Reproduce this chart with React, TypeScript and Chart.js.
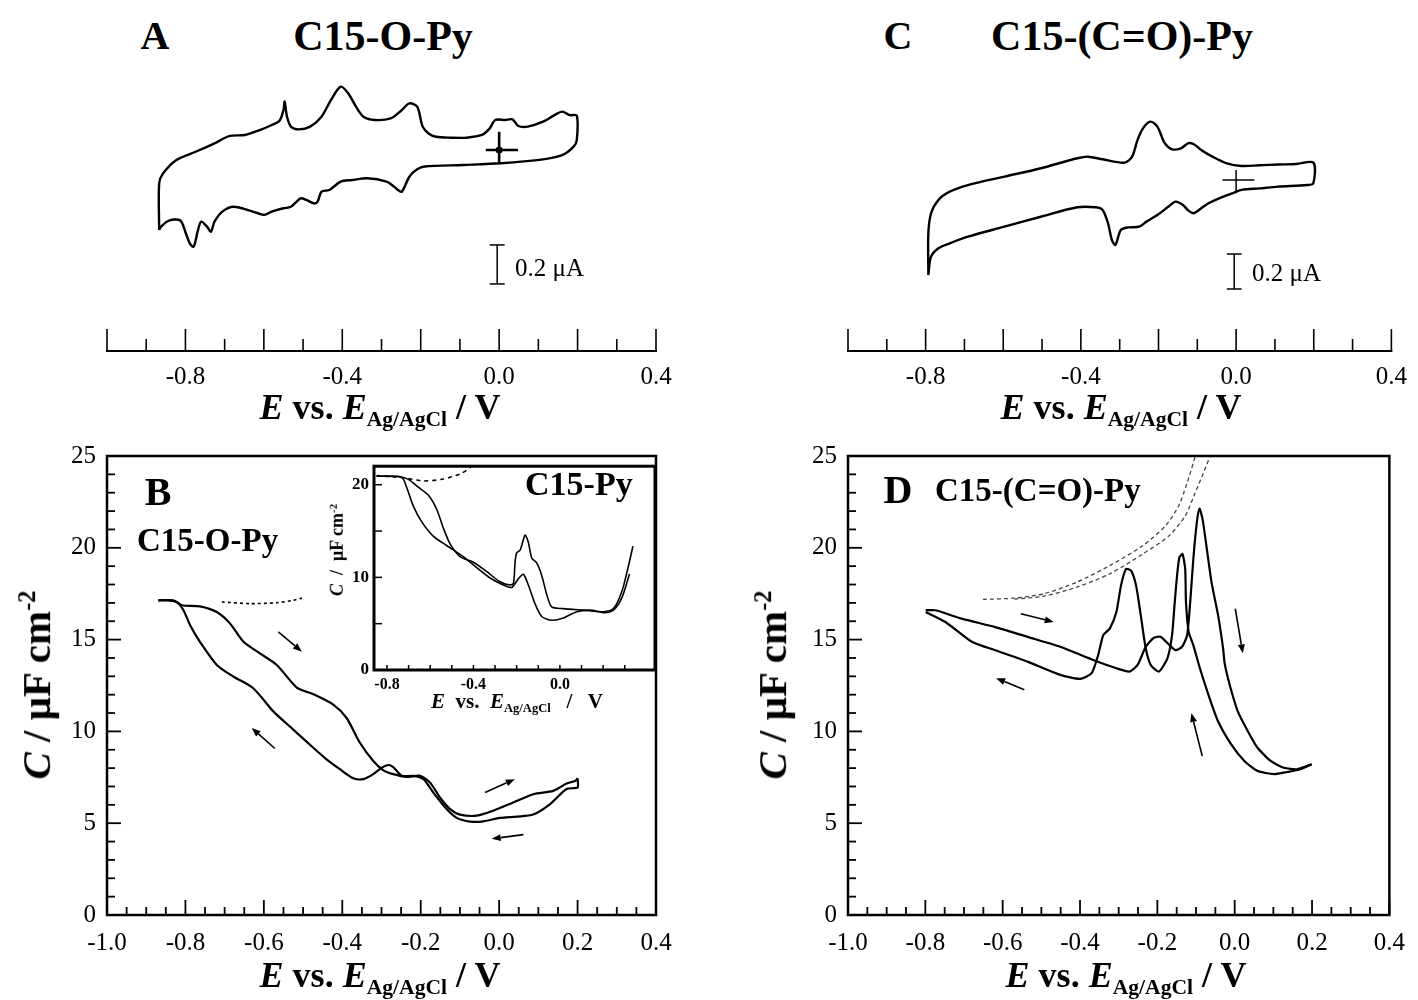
import React, { useEffect, useRef } from "react";
import { Chart, registerables } from "chart.js";
Chart.register(...registerables);

const SERIF = "'Liberation Serif', 'Times New Roman', serif";
Chart.defaults.font.family = SERIF;

// ---------------- Panel A : CV of C15-O-Py (E / V, I / uA) ----------------
const cvA_E = [-0.867,-0.867,-0.857,-0.823,-0.774,-0.726,-0.687,-0.648,-0.609,-0.580,-0.560,-0.550,-0.547,-0.541,-0.531,-0.511,-0.482,-0.453,-0.429,-0.404,-0.385,-0.365,-0.346,-0.317,-0.277,-0.248,-0.229,-0.209,-0.195,-0.180,-0.161,-0.122,-0.083,-0.044,-0.024,-0.010,0.015,0.034,0.049,0.073,0.112,0.141,0.161,0.180,0.198,
  0.198,0.190,0.161,0.102,0.005,-0.092,-0.190,-0.209,-0.229,-0.248,-0.258,-0.268,-0.287,-0.336,-0.375,-0.404,-0.433,-0.453,-0.463,-0.472,-0.492,-0.506,-0.531,-0.550,-0.580,-0.599,-0.628,-0.677,-0.706,-0.726,-0.735,-0.745,-0.760,-0.769,-0.779,-0.789,-0.799,-0.813,-0.842,-0.862,-0.867];
const cvA_I = [-0.410,-0.171,-0.120,-0.051,-0.009,0.034,0.072,0.077,0.103,0.128,0.150,0.205,0.248,0.171,0.120,0.106,0.120,0.171,0.256,0.325,0.291,0.222,0.171,0.154,0.162,0.205,0.239,0.222,0.120,0.085,0.068,0.063,0.063,0.077,0.111,0.154,0.154,0.157,0.123,0.120,0.145,0.179,0.197,0.179,0.176,
  0.051,0.017,-0.026,-0.051,-0.068,-0.077,-0.085,-0.099,-0.137,-0.214,-0.205,-0.188,-0.162,-0.145,-0.154,-0.162,-0.205,-0.214,-0.265,-0.274,-0.256,-0.248,-0.291,-0.299,-0.316,-0.333,-0.316,-0.291,-0.316,-0.368,-0.419,-0.393,-0.368,-0.419,-0.496,-0.479,-0.427,-0.362,-0.362,-0.393,-0.410];
const crossA_E = [-0.034, 0.048];
const crossA_I = [0.094, -0.068];
const scaleBarA = [-0.005, -0.487, -0.687]; // E, I top, I bottom

// ---------------- Panel C : CV of C15-(C=O)-Py ----------------
const cvC_E = [-0.793,-0.793,-0.786,-0.767,-0.738,-0.691,-0.597,-0.503,-0.409,-0.381,-0.344,-0.287,-0.268,-0.254,-0.240,-0.221,-0.203,-0.184,-0.165,-0.142,-0.123,-0.109,-0.090,-0.061,-0.024,0.014,0.061,0.108,0.155,0.199,
  0.199,0.183,0.108,0.061,0.014,-0.005,-0.033,-0.071,-0.090,-0.109,-0.123,-0.137,-0.156,-0.174,-0.203,-0.231,-0.250,-0.278,-0.297,-0.311,-0.320,-0.330,-0.344,-0.362,-0.409,-0.503,-0.597,-0.691,-0.738,-0.767,-0.786,-0.793];
const cvC_I = [-0.543,-0.305,-0.190,-0.114,-0.067,-0.029,0.019,0.067,0.124,0.133,0.118,0.099,0.133,0.229,0.295,0.333,0.305,0.210,0.175,0.181,0.210,0.204,0.171,0.133,0.095,0.080,0.084,0.088,0.091,0.099,
  -0.019,-0.029,-0.038,-0.048,-0.057,-0.072,-0.095,-0.133,-0.162,-0.190,-0.175,-0.143,-0.124,-0.152,-0.200,-0.238,-0.267,-0.271,-0.286,-0.371,-0.343,-0.248,-0.171,-0.156,-0.156,-0.210,-0.267,-0.324,-0.362,-0.390,-0.438,-0.543];
const crossC_E = [-0.035, 0.047];
const crossC_I = [0.057, -0.076];
const scaleBarC = [-0.005, -0.423, -0.623];

// ---------------- Panel B : C vs E, C15-O-Py ----------------
const bFwdE = [-0.869,-0.831,-0.809,-0.763,-0.720,-0.686,-0.652,-0.610,-0.567,-0.516,-0.474,-0.423,-0.389,-0.355,-0.321,-0.295,-0.270,-0.236,-0.202,-0.176,-0.151,-0.125,-0.100,-0.057,-0.015,0.036,0.087,0.138,0.172,0.194,0.200];
const bFwdC = [17.14,17.14,16.87,16.81,16.50,15.87,14.88,14.25,13.62,12.39,12.03,11.46,10.73,9.38,8.39,7.88,7.67,7.52,7.58,7.21,6.40,5.77,5.47,5.41,5.68,6.13,6.58,6.76,7.16,7.30,7.45];
const bRevE = [0.200,0.200,0.172,0.130,0.087,0.045,0.002,-0.040,-0.074,-0.108,-0.134,-0.168,-0.193,-0.219,-0.248,-0.270,-0.283,-0.299,-0.321,-0.346,-0.372,-0.406,-0.440,-0.474,-0.525,-0.576,-0.627,-0.678,-0.720,-0.763,-0.788,-0.805,-0.822,-0.856,-0.869];
const bRevC = [7.45,6.95,6.86,6.04,5.47,5.36,5.29,5.10,5.09,5.29,5.77,6.67,7.40,7.58,7.58,8.06,8.17,8.03,7.67,7.40,7.45,7.94,8.48,9.11,10.10,11.09,12.35,12.99,13.62,14.88,15.78,16.60,17.05,17.14,17.14];
const bDashE = [-0.707,-0.635,-0.567,-0.525,-0.503];
const bDashC = [17.05,16.96,17.01,17.14,17.26];
const arrowsB = [[-0.563,15.42,-0.503,14.34],[-0.572,9.07,-0.631,10.19],[-0.036,6.67,0.040,7.40],[0.062,4.38,-0.019,4.15]];

// ---------------- Inset : C15-Py ----------------
const insAE = [-0.848,-0.755,-0.701,-0.655,-0.609,-0.570,-0.539,-0.508,-0.462,-0.400,-0.338,-0.277,-0.231,-0.215,-0.207,-0.200,-0.184,-0.161,-0.146,-0.130,-0.107,-0.084,-0.061,-0.038,0.016,0.109,0.201,0.248,0.287,0.317,0.338];
const insAC = [20.92,20.88,20.58,19.73,18.88,17.35,15.31,13.61,12.24,11.63,10.61,9.52,9.18,9.35,11.73,12.65,12.93,14.56,13.78,12.07,11.56,10.20,8.16,6.81,6.63,6.46,6.29,6.63,8.50,11.22,13.37];
const insBE = [-0.848,-0.732,-0.709,-0.678,-0.639,-0.586,-0.524,-0.447,-0.385,-0.323,-0.262,-0.223,-0.192,-0.169,-0.146,-0.115,-0.084,-0.038,0.016,0.078,0.140,0.209,0.248,0.287,0.322];
const insBC = [20.92,20.82,19.73,17.69,15.99,14.46,13.44,12.24,11.05,9.93,9.18,8.91,9.86,10.34,9.18,7.14,5.78,5.37,5.61,6.29,6.46,6.19,6.46,7.82,10.37];
const insDashE = [-0.848,-0.725,-0.632,-0.539,-0.462,-0.416,-0.400];
const insDashC = [21.0,20.75,20.41,20.61,21.16,21.84,22.4];
const insXTickLabels = [-0.8, -0.4, 0.0];
const insYTickLabels = [0, 10, 20];

// ---------------- Panel D : C vs E, C15-(C=O)-Py ----------------
const dFwdE = [-0.799,-0.774,-0.706,-0.621,-0.536,-0.451,-0.366,-0.306,-0.272,-0.251,-0.230,-0.209,-0.192,-0.170,-0.153,-0.136,-0.123,-0.115,-0.107,-0.098,-0.091,-0.083,-0.072,-0.060,-0.043,-0.030,-0.026,-0.013,0.008,0.034,0.059,0.093,0.127,0.161,0.199];
const dFwdC = [16.60,16.60,16.14,15.69,15.15,14.61,13.89,13.44,13.26,13.62,14.61,15.10,15.15,14.73,14.43,14.61,15.24,17.05,19.39,21.37,22.13,21.55,19.93,18.13,16.33,14.52,13.71,12.54,11.09,10.01,9.11,8.39,8.02,7.94,8.21];
const dRevE = [0.199,0.170,0.136,0.102,0.059,0.025,-0.009,-0.043,-0.068,-0.090,-0.107,-0.119,-0.126,-0.128,-0.135,-0.143,-0.149,-0.155,-0.162,-0.174,-0.196,-0.217,-0.230,-0.243,-0.255,-0.268,-0.281,-0.294,-0.306,-0.323,-0.340,-0.353,-0.370,-0.400,-0.451,-0.536,-0.621,-0.680,-0.748,-0.799];
const dRevC = [8.21,7.94,7.79,7.67,7.85,8.39,9.29,10.55,12.00,13.44,14.70,15.42,17.05,18.85,19.66,19.48,18.49,17.05,15.24,13.98,13.26,13.62,14.52,16.33,17.95,18.76,18.85,17.95,16.50,15.60,15.24,14.16,13.17,12.86,13.08,13.80,14.43,14.88,15.96,16.50];
const dDash1E = [-0.651,-0.570,-0.493,-0.408,-0.323,-0.238,-0.179,-0.145,-0.123,-0.102,-0.095];
const dDash1C = [17.19,17.26,17.50,18.13,19.03,20.11,21.20,22.28,23.54,24.98,25.5];
const dDash2E = [-0.570,-0.493,-0.408,-0.323,-0.238,-0.170,-0.128,-0.102,-0.081,-0.064,-0.058];
const dDash2C = [17.20,17.37,17.86,18.58,19.66,20.65,21.74,23.00,24.08,24.98,25.5];
const arrowsD = [[-0.553,16.41,-0.468,15.96],[-0.544,12.27,-0.617,12.90],[0.0015,16.68,0.021,14.25],[-0.084,8.66,-0.112,11.0]];

// ---------------- helpers ----------------
type Pt = { x: number; y: number };
const pts = (xs: number[], ys: number[]): Pt[] => xs.map((x, i) => ({ x, y: ys[i] }));
const fmt = (v: number) => (Math.abs(v) < 1e-9 ? "0.0" : v.toFixed(1));

interface TickCfg { from: number; to: number; minor: number; major: number; minorLen: number; majorLen: number; }
interface DecorCfg { frame: "box" | "bottom"; frameWidth: number; tickWidth: number; x?: TickCfg; y?: TickCfg; arrows?: number[][]; }

function makeDecor(cfg: DecorCfg) {
  return {
    id: "decor",
    afterDatasetsDraw(chart: any) {
      const { ctx, chartArea: a } = chart;
      const xs = chart.scales.x, ys = chart.scales.y;
      ctx.save();
      ctx.strokeStyle = "#000";
      ctx.fillStyle = "#000";
      const each = (t: TickCfg, scale: any, fn: (p: number, len: number) => void) => {
        const n = Math.round((t.to - t.from) / t.minor);
        for (let k = 0; k <= n; k++) {
          const v = t.from + k * t.minor;
          const r = v / t.major;
          const isMajor = Math.abs(r - Math.round(r)) < 1e-6;
          fn(scale.getPixelForValue(v), isMajor ? t.majorLen : t.minorLen);
        }
      };
      ctx.lineWidth = cfg.tickWidth;
      if (cfg.x) each(cfg.x, xs, (p, len) => { ctx.beginPath(); ctx.moveTo(p, a.bottom); ctx.lineTo(p, a.bottom - len); ctx.stroke(); });
      if (cfg.y) each(cfg.y, ys, (p, len) => { ctx.beginPath(); ctx.moveTo(a.left, p); ctx.lineTo(a.left + len, p); ctx.stroke(); });
      ctx.lineWidth = cfg.frameWidth;
      if (cfg.frame === "box") {
        ctx.strokeRect(a.left, a.top, a.right - a.left, a.bottom - a.top);
      } else {
        ctx.beginPath();
        ctx.moveTo(a.left - 1, a.bottom);
        ctx.lineTo(a.right + 1, a.bottom);
        ctx.stroke();
      }
      if (cfg.arrows) {
        ctx.lineWidth = 1.6;
        for (const [x1, y1, x2, y2] of cfg.arrows) {
          const X1 = xs.getPixelForValue(x1), Y1 = ys.getPixelForValue(y1);
          const X2 = xs.getPixelForValue(x2), Y2 = ys.getPixelForValue(y2);
          const ang = Math.atan2(Y2 - Y1, X2 - X1);
          const hl = 9, hw = 3.5;
          const bx = X2 - hl * Math.cos(ang), by = Y2 - hl * Math.sin(ang);
          ctx.beginPath(); ctx.moveTo(X1, Y1); ctx.lineTo(bx, by); ctx.stroke();
          ctx.beginPath();
          ctx.moveTo(X2, Y2);
          ctx.lineTo(bx + hw * Math.sin(ang), by - hw * Math.cos(ang));
          ctx.lineTo(bx - hw * Math.sin(ang), by + hw * Math.cos(ang));
          ctx.closePath(); ctx.fill();
        }
      }
      ctx.restore();
    },
  };
}

const line = (data: Pt[], extra: any = {}) => ({
  data, borderColor: "#000", borderWidth: 2, pointRadius: 0, tension: 0.25, fill: false, ...extra,
});

const tickFont = (size: number, bold = false) => ({ family: SERIF, size, weight: bold ? "bold" : "normal" });

function buildConfig(datasets: any[], scales: any, padding: any, decor: DecorCfg) {
  return {
    type: "line",
    data: { datasets },
    options: {
      responsive: false, animation: false, devicePixelRatio: 1, events: [],
      layout: { padding },
      plugins: { legend: { display: false }, tooltip: { enabled: false } },
      scales,
    },
    plugins: [makeDecor(decor)],
  };
}

// ---- CV panel (A / C) ----
function cvConfig(E: number[], I: number[], cE: number[], cI: number[], bar: number[], yMin: number, yMax: number, padL: number, padR: number, bold: boolean) {
  const cw = bold ? 2.6 : 1.5;
  const datasets: any[] = [
    line(pts(E, I), { borderWidth: 2.4, tension: 0.3 }),
    line([{ x: cE[0], y: 0 }, { x: cE[1], y: 0 }], { borderWidth: cw, tension: 0 }),
    line([{ x: 0, y: cI[0] }, { x: 0, y: cI[1] }], { borderWidth: cw, tension: 0 }),
    line([{ x: bar[0], y: bar[1] }, { x: bar[0], y: bar[2] }], { borderWidth: 1.5, tension: 0 }),
    line([{ x: bar[0] - 0.019, y: bar[1] }, { x: bar[0] + 0.019, y: bar[1] }], { borderWidth: 1.5, tension: 0 }),
    line([{ x: bar[0] - 0.019, y: bar[2] }, { x: bar[0] + 0.019, y: bar[2] }], { borderWidth: 1.5, tension: 0 }),
  ];
  if (bold) datasets.push({ data: [{ x: 0, y: 0 }], showLine: false, pointRadius: 3.5, pointBackgroundColor: "#000", pointBorderWidth: 0 });
  const scales = {
    x: {
      type: "linear", min: -1.0, max: 0.4,
      afterFit: (s: any) => { s.height = 89; },
      grid: { display: false, drawTicks: false }, border: { display: false },
      ticks: {
        stepSize: 0.2, autoSkip: false, maxRotation: 0, padding: 11, color: "#000", font: tickFont(25),
        callback: (v: number) => { const r = v / 0.4; return Math.abs(r - Math.round(r)) < 1e-6 ? fmt(v) : ""; },
      },
    },
    y: { type: "linear", display: false, min: yMin, max: yMax },
  };
  return buildConfig(datasets, scales, { top: 20, left: padL, right: padR, bottom: 0 }, {
    frame: "bottom", frameWidth: 2, tickWidth: 1.6,
    x: { from: -1.0, to: 0.4, minor: 0.1, major: 0.2, minorLen: 12, majorLen: 22 },
  });
}

// ---- Capacitance panel (B / D) ----
function capScales(yWidth: number) {
  return {
    x: {
      type: "linear", min: -1.0, max: 0.4,
      afterFit: (s: any) => { s.height = 85; },
      grid: { display: false, drawTicks: false }, border: { display: false },
      ticks: { stepSize: 0.2, autoSkip: false, maxRotation: 0, padding: 13, color: "#000", font: tickFont(25), callback: (v: number) => fmt(v) },
    },
    y: {
      type: "linear", min: 0, max: 25,
      afterFit: (s: any) => { s.width = yWidth; },
      grid: { display: false, drawTicks: false }, border: { display: false },
      ticks: { stepSize: 5, padding: 11, color: "#000", font: tickFont(25) },
    },
  };
}
const capDecor = (arrows: number[][]): DecorCfg => ({
  frame: "box", frameWidth: 2.5, tickWidth: 1.8,
  x: { from: -1.0, to: 0.4, minor: 0.05, major: 0.2, minorLen: 8, majorLen: 15 },
  y: { from: 0, to: 25, minor: 1, major: 5, minorLen: 8, majorLen: 14 },
  arrows,
});

const configA = () => cvConfig(cvA_E, cvA_I, crossA_E, crossA_I, scaleBarA, -1.031, 0.359, 107, 44, true);
const configC = () => cvConfig(cvC_E, cvC_I, crossC_E, crossC_I, scaleBarC, -0.977, 0.571, 108, 21, false);

const configB = () => buildConfig([
  line(pts(bFwdE, bFwdC), { borderWidth: 2.2 }),
  line(pts(bRevE, bRevC), { borderWidth: 2.2 }),
  line(pts(bDashE, bDashC), { borderWidth: 1.6, borderDash: [3, 3] }),
], capScales(107), { top: 23, right: 44, left: 0, bottom: 0 }, capDecor(arrowsB));

const configD = () => buildConfig([
  line(pts(dFwdE, dFwdC), { borderWidth: 2.2, tension: 0.2 }),
  line(pts(dRevE, dRevC), { borderWidth: 2.2, tension: 0.2 }),
  line(pts(dDash1E, dDash1C), { borderWidth: 1.3, borderDash: [4, 3], borderColor: "#444" }),
  line(pts(dDash2E, dDash2C), { borderWidth: 1.3, borderDash: [4, 3], borderColor: "#444" }),
], capScales(108), { top: 23, right: 21, left: 0, bottom: 0 }, capDecor(arrowsD));

const configInset = () => buildConfig([
  line(pts(insAE, insAC), { borderWidth: 1.6 }),
  line(pts(insBE, insBC), { borderWidth: 1.6 }),
  line(pts(insDashE, insDashC), { borderWidth: 1.6, borderDash: [4, 4] }),
], {
  x: {
    type: "linear", min: -0.86, max: 0.44,
    afterFit: (s: any) => { s.height = 46; },
    afterBuildTicks: (s: any) => { s.ticks = insXTickLabels.map((value) => ({ value })); },
    grid: { display: false, drawTicks: false }, border: { display: false },
    ticks: { autoSkip: false, maxRotation: 0, padding: 5, color: "#000", font: tickFont(16, true), callback: (v: number) => fmt(v) },
  },
  y: {
    type: "linear", min: 0, max: 22,
    afterFit: (s: any) => { s.width = 52; },
    afterBuildTicks: (s: any) => { s.ticks = insYTickLabels.map((value) => ({ value })); },
    grid: { display: false, drawTicks: false }, border: { display: false },
    ticks: { autoSkip: false, padding: 5, color: "#000", font: tickFont(17, true), callback: (v: number) => String(v) },
  },
}, { top: 3, right: 2, left: 0, bottom: 0 }, {
  frame: "box", frameWidth: 3, tickWidth: 1.5,
  x: { from: -0.8, to: 0.3, minor: 0.1, major: 0.4, minorLen: 5, majorLen: 5 },
  y: { from: 0, to: 20, minor: 5, major: 10, minorLen: 8, majorLen: 8 },
});

function ChartBox({ left, top, width, height, make }: { left: number; top: number; width: number; height: number; make: () => any }) {
  const ref = useRef<HTMLCanvasElement>(null);
  useEffect(() => {
    const chart = new Chart(ref.current as HTMLCanvasElement, make());
    return () => chart.destroy();
  }, []);
  return <canvas ref={ref} width={width} height={height} style={{ position: "absolute", left, top, width, height }} />;
}

function T({ x, y, size, bold = true, left = false, rotate = false, children }: any) {
  return (
    <div style={{
      position: "absolute", left: x, top: y,
      transform: `translate(${left ? "0" : "-50%"}, -50%)${rotate ? " rotate(-90deg)" : ""}`,
      fontFamily: SERIF, fontSize: size, fontWeight: bold ? "bold" : "normal",
      whiteSpace: "pre", lineHeight: 1, color: "#000",
    }}>{children}</div>
  );
}

const sub = { fontSize: "0.6em", verticalAlign: "-0.3em" } as React.CSSProperties;
const sup = { fontSize: "0.6em", verticalAlign: "0.6em" } as React.CSSProperties;

const ETitle = ({ x, y, size, spaced = false }: any) => (
  <T x={x} y={y} size={size}>
    <i>E</i>{spaced ? "  vs.  " : " vs. "}<i>E</i><span style={sub}>Ag/AgCl</span>{spaced ? "   /   V" : " / V"}
  </T>
);
const CTitle = ({ x, y, size, spaced = false }: any) => (
  <T x={x} y={y} size={size} rotate>
    <i>C</i>{spaced ? "  /  " : " / "}μF cm<span style={sup}>-2</span>
  </T>
);

export default function App() {
  return (
    <div style={{ position: "absolute", left: 0, top: 0, width: 1418, height: 1000, background: "#fff", overflow: "hidden" }}>
      <ChartBox left={0} top={60} width={700} height={380} make={configA} />
      <ChartBox left={740} top={60} width={678} height={380} make={configC} />
      <ChartBox left={0} top={430} width={700} height={570} make={configB} />
      <ChartBox left={740} top={430} width={678} height={570} make={configD} />
      <ChartBox left={322} top={451} width={335} height={265} make={configInset} />

      <T x={155} y={36} size={40}>A</T>
      <T x={383} y={36} size={42}>C15-O-Py</T>
      <T x={898} y={36} size={40}>C</T>
      <T x={1122} y={36} size={42}>C15-(C=O)-Py</T>

      <T x={515} y={267} size={25} bold={false} left>0.2 μA</T>
      <T x={1252} y={272} size={25} bold={false} left>0.2 μA</T>

      <ETitle x={380} y={410} size={36} />
      <ETitle x={1121} y={410} size={36} />
      <ETitle x={380} y={978} size={36} />
      <ETitle x={1126} y={978} size={36} />

      <CTitle x={36} y={685} size={41} />
      <CTitle x={772} y={685} size={41} />

      <T x={158} y={492} size={40}>B</T>
      <T x={137} y={540} size={33} left>C15-O-Py</T>
      <T x={898} y={490} size={40}>D</T>
      <T x={935} y={490} size={33} left>C15-(C=O)-Py</T>

      <T x={525} y={484} size={34} left>C15-Py</T>
      <ETitle x={517} y={703} size={21} spaced />
      <CTitle x={337} y={550} size={18} spaced />
    </div>
  );
}
